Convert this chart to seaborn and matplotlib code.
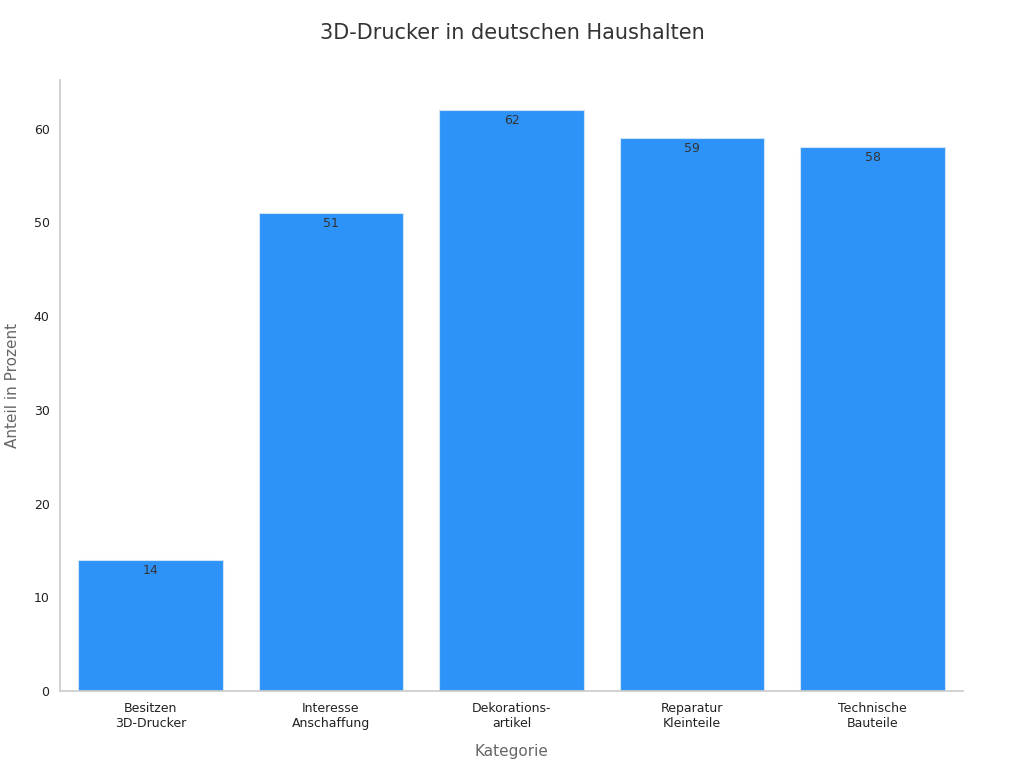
import matplotlib
matplotlib.use("Agg")
import matplotlib.pyplot as plt
import seaborn as sns
import pandas as pd

# =============================================================================
# DATA
# =============================================================================

categories = [
    "Besitzen\n3D-Drucker",
    "Interesse\nAnschaffung",
    "Dekorations-\nartikel",
    "Reparatur\nKleinteile",
    "Technische\nBauteile",
]
values = [14, 51, 62, 59, 58]

df = pd.DataFrame({"Kategorie": categories, "Anteil": values})

# =============================================================================
# PLOT
# =============================================================================

sns.set_theme(style="white")
plt.rcParams["font.family"] = ["DejaVu Sans"]

fig = plt.figure(figsize=(10.24, 7.68), dpi=100)
ax = fig.add_axes([60 / 1024, 1 - 691 / 768, 903 / 1024, 611 / 768])

sns.barplot(
    data=df, x="Kategorie", y="Anteil", color="#2E93F8",
    saturation=1, width=0.8, edgecolor="#cfe3f7", linewidth=0.8, ax=ax
)

for i, v in enumerate(values):
    ax.text(i, v - 0.4, str(v), ha="center", va="top",
            fontsize=9, color="#333333")

ax.set_xlim(-0.5, 4.5)
ax.set_ylim(0, 65.2)
ax.set_yticks([0, 10, 20, 30, 40, 50, 60])
ax.tick_params(axis="both", labelsize=9, colors="#222222", length=4)
ax.tick_params(axis="x", length=0, pad=8)
ax.tick_params(axis="y", color="#888888")

for side in ["top", "right"]:
    ax.spines[side].set_visible(False)
for side in ["left", "bottom"]:
    ax.spines[side].set_color("#cccccc")

ax.set_xlabel("Kategorie", fontsize=11, color="#666666", labelpad=10)
ax.set_ylabel("Anteil in Prozent", fontsize=11, color="#666666", labelpad=10)
fig.suptitle("3D-Drucker in deutschen Haushalten", fontsize=15,
             color="#333333", y=1 - 33 / 768, va="center")

fig.savefig("out.png", dpi=100)
